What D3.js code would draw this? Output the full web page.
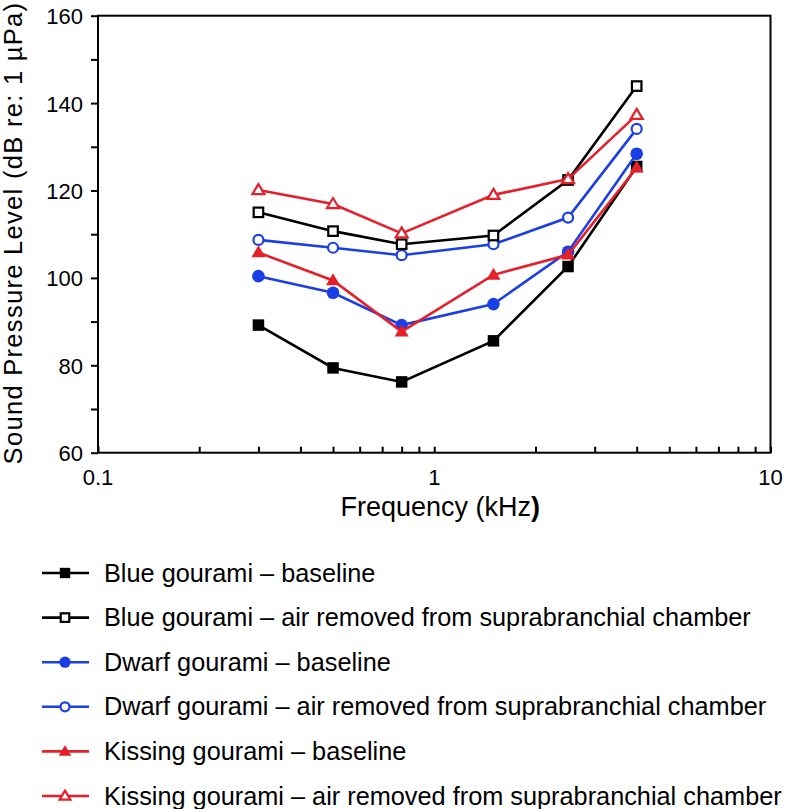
<!DOCTYPE html>
<html><head><meta charset="utf-8">
<script src="https://cdn.jsdelivr.net/npm/d3@7"></script>
<style>body{margin:0;background:#fff}svg{font-family:"Liberation Sans",Arial,Helvetica,sans-serif}</style>
</head><body><svg id="c" width="787" height="809"></svg>
<script>
const freqs = [0.3, 0.5, 0.8, 1.5, 2.5, 4];
const blueBase = [89.2, 79.4, 76.2, 85.6, 102.6, 125.5];
const blueAir = [115.0, 110.7, 107.7, 109.7, 122.4, 143.9];
const dwarfBase = [100.4, 96.6, 89.2, 94.0, 106.0, 128.4];
const dwarfAir = [108.7, 106.9, 105.2, 107.7, 113.8, 134.1];
const kissBase = [105.8, 99.4, 87.7, 100.7, 105.3, 125.2];
const kissAir = [120.1, 116.9, 110.2, 119.0, 122.6, 137.3];
const seriesNames = ["Blue gourami \u2013 baseline","Blue gourami \u2013 air removed from suprabranchial chamber","Dwarf gourami \u2013 baseline","Dwarf gourami \u2013 air removed from suprabranchial chamber","Kissing gourami \u2013 baseline","Kissing gourami \u2013 air removed from suprabranchial chamber"];
const yTicks = [60, 80, 100, 120, 140, 160];
const xTickLabels = ["0.1", "1", "10"];

const BLACK="#000", BLUE="#1b3fe6", RED="#e6202b";
const series = [
 {name:seriesNames[0], vals:blueBase, color:BLACK, shape:"square", fill:true},
 {name:seriesNames[1], vals:blueAir, color:BLACK, shape:"square", fill:false},
 {name:seriesNames[2], vals:dwarfBase, color:BLUE, shape:"circle", fill:true},
 {name:seriesNames[3], vals:dwarfAir, color:BLUE, shape:"circle", fill:false},
 {name:seriesNames[4], vals:kissBase, color:RED, shape:"triangle", fill:true},
 {name:seriesNames[5], vals:kissAir, color:RED, shape:"triangle", fill:false}
];
const drawOrder=[0,2,4,3,1,5];

const svg=d3.select("#c");
const L=98,R=770.5,T=15.7,B=452.7;
const x=d3.scaleLog().domain([0.1,10]).range([L,R]);
const y=d3.scaleLinear().domain([60,160]).range([B,T]);

// frame
svg.append("rect").attr("x",L).attr("y",T).attr("width",R-L).attr("height",B-T)
 .attr("fill","none").attr("stroke","#000").attr("stroke-width",2);

// y axis
const yAxis=d3.axisLeft(y).tickValues(d3.range(60,161,10)).tickSize(7)
 .tickFormat(d=>yTicks.includes(d)?d:"");
const gy=svg.append("g").attr("transform",`translate(${L},0)`).call(yAxis);
gy.select(".domain").remove();
gy.selectAll("line").attr("stroke","#000").attr("stroke-width",2);
gy.selectAll("text").attr("font-size",22).attr("fill","#000").attr("x",-15).attr("dy","0.36em")
 .attr("font-family","Liberation Sans, Arial, sans-serif");

// x axis (inward ticks)
const xt=[];[0.1,1].forEach(d=>{for(let k=1;k<10;k++)xt.push(d*k);});xt.push(10);
const xAxis=d3.axisTop(x).tickValues(xt).tickSize(6).tickFormat("");
const gx=svg.append("g").attr("transform",`translate(0,${B})`).call(xAxis);
gx.select(".domain").remove();
gx.selectAll("line").attr("stroke","#000").attr("stroke-width",2);
svg.append("g").selectAll("text").data(xTickLabels).join("text")
 .attr("x",d=>x(+d)).attr("y",485).attr("text-anchor","middle").attr("font-size",22).text(d=>d);

// titles
const xt2=svg.append("text").attr("x",x(1)+6).attr("y",516).attr("text-anchor","middle").attr("font-size",27);
xt2.append("tspan").text("Frequency (kHz");
xt2.append("tspan").attr("font-weight","bold").text(")");
svg.append("text").attr("transform",`translate(21.5,233) rotate(-90)`)
 .attr("text-anchor","middle").attr("font-size",25.5).attr("letter-spacing",1.3)
 .text("Sound Pressure Level (dB re: 1 \u00b5Pa)");

function marker(g,s,cx,cy,scale){
 const sw=2.2;
 const fill=s.fill?s.color:"#fff";
 if(s.shape==="square"){
  const a=s.fill?11.5*scale:9.5*scale;
  g.append("rect").attr("x",cx-a/2).attr("y",cy-a/2).attr("width",a).attr("height",a)
   .attr("fill",fill).attr("stroke",s.color).attr("stroke-width",s.fill?0:sw);
 } else if(s.shape==="circle"){
  const r=s.fill?6.3*scale:5*scale;
  g.append("circle").attr("cx",cx).attr("cy",cy).attr("r",r)
   .attr("fill",fill).attr("stroke",s.color).attr("stroke-width",s.fill?0:sw);
 } else {
  const h=s.fill?12*scale:10*scale, w=s.fill?14*scale:12*scale;
  g.append("path").attr("d",`M${cx},${cy-h*0.6}L${cx+w/2},${cy+h*0.4}L${cx-w/2},${cy+h*0.4}Z`)
   .attr("fill",fill).attr("stroke",s.color).attr("stroke-width",s.fill?0:sw).attr("stroke-linejoin","miter");
 }
}

const line=d3.line().x(d=>x(d[0])).y(d=>y(d[1]));
drawOrder.forEach(i=>{
 const s=series[i];
 const pts=freqs.map((f,j)=>[f,s.vals[j]]);
 const g=svg.append("g");
 g.append("path").attr("d",line(pts)).attr("fill","none").attr("stroke",s.color).attr("stroke-width",2.6);
 pts.forEach(p=>marker(g,s,x(p[0]),y(p[1]),1));
});

// legend
const ly0=573, ldy=44.6;
series.forEach((s,i)=>{
 const cy=ly0+i*ldy;
 const g=svg.append("g");
 g.append("line").attr("x1",42).attr("x2",89).attr("y1",cy).attr("y2",cy).attr("stroke",s.color).attr("stroke-width",2.6);
 marker(g,s,65,cy,0.9);
 g.append("text").attr("x",104).attr("y",cy).attr("dy","0.34em").attr("font-size",25.3).text(s.name);
});
</script></body></html>
